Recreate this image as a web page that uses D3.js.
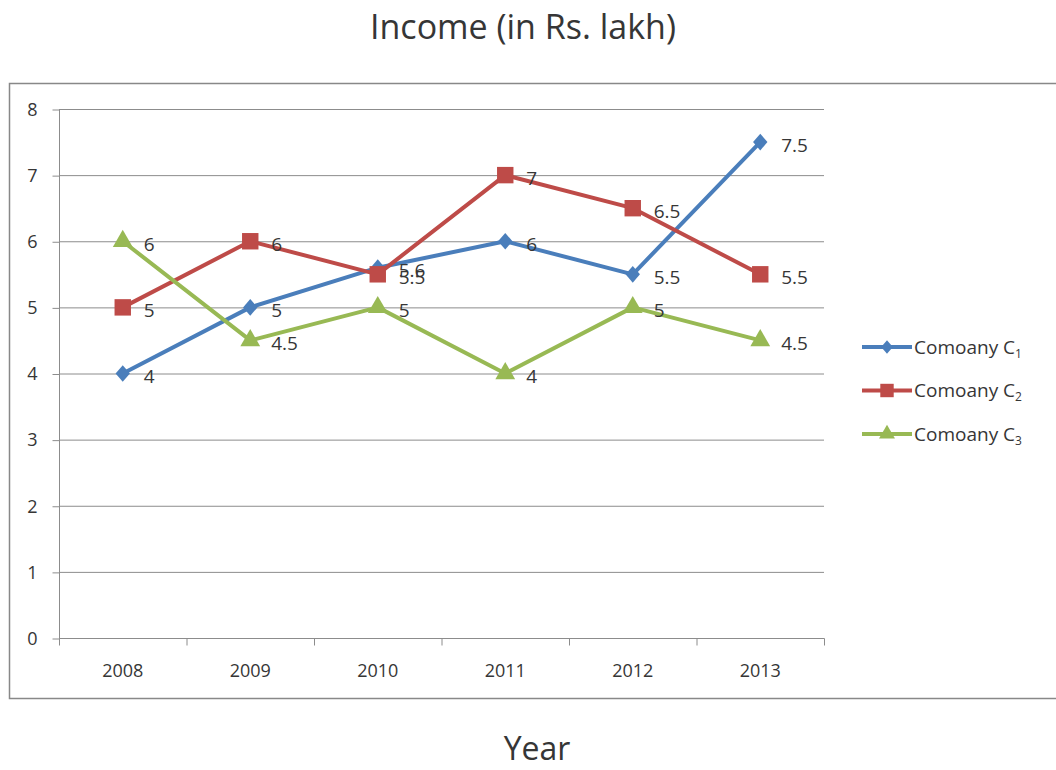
<!DOCTYPE html>
<html>
<head>
<meta charset="utf-8">
<script src="https://cdn.jsdelivr.net/npm/d3@7"></script>
<style>
  body { margin: 0; background: #fff; }
  text { font-family: "Open Sans", sans-serif; fill: #363636; }
</style>
</head>
<body>
<div class="chart-container"></div>
<script>
// --- Data ---
var years = ["2008", "2009", "2010", "2011", "2012", "2013"];
var company1 = [4, 5, 5.6, 6, 5.5, 7.5];
var company2 = [5, 6, 5.5, 7, 6.5, 5.5];
var company3 = [6, 4.5, 5, 4, 5, 4.5];
var seriesNames = ["1", "2", "3"];
var yTicks = [0, 1, 2, 3, 4, 5, 6, 7, 8];

// --- Layout ---
const w = 1056;
const h = 770;
const plotLeft = 59, plotRight = 824, plotTop = 109, plotBottom = 638;

// Excel-style diamond (a bit taller than wide)
var diamond = {
  draw: function (ctx, size) {
    var r = Math.sqrt(size / 2);
    ctx.moveTo(0, -r * 1.08);
    ctx.lineTo(r * 0.93, 0);
    ctx.lineTo(0, r * 1.08);
    ctx.lineTo(-r * 0.93, 0);
    ctx.closePath();
  }
};

var series = [
  { sub: seriesNames[0], values: company1, color: "#4a7ebb", shape: diamond, size: 120, legendSize: 80 },
  { sub: seriesNames[1], values: company2, color: "#be4b48", shape: d3.symbolSquare, size: 270, legendSize: 180 },
  { sub: seriesNames[2], values: company3, color: "#98b954", shape: d3.symbolTriangle, size: 170, legendSize: 110 }
];

var svg = d3.select(".chart-container")
  .append("svg")
  .attr("width", w)
  .attr("height", h);

// outer frame
svg.append("rect")
  .attr("x", 9.5).attr("y", 83.5)
  .attr("width", 1060).attr("height", 615)
  .attr("fill", "none")
  .attr("stroke", "#888")
  .attr("stroke-width", 1.5);

// title + axis title
svg.append("text")
  .attr("x", 523).attr("y", 39)
  .attr("text-anchor", "middle")
  .attr("font-size", "34px")
  .text("Income (in Rs. lakh)");

svg.append("text")
  .attr("x", 537).attr("y", 760)
  .attr("text-anchor", "middle")
  .attr("font-size", "32px")
  .text("Year");

// scales
var xScale = d3.scaleBand()
  .domain(years)
  .range([plotLeft, plotRight]);

var yScale = d3.scaleLinear()
  .domain([0, 8])
  .range([plotBottom, plotTop]);

// gridlines
svg.append("g")
  .selectAll("line")
  .data(yTicks.filter(function (d) { return d > 0; }))
  .enter()
  .append("line")
  .attr("x1", plotLeft).attr("x2", plotRight)
  .attr("y1", function (d) { return yScale(d) + 0.5; })
  .attr("y2", function (d) { return yScale(d) + 0.5; })
  .attr("stroke", "#8c8c8c")
  .attr("stroke-width", 1);

// y axis
var yAxis = svg.append("g")
  .attr("transform", "translate(" + (plotLeft + 0.5) + ",0.5)")
  .call(d3.axisLeft(yScale).tickValues(yTicks).tickSize(7).tickPadding(15));
yAxis.selectAll("text").attr("font-size", "18px").attr("fill", "#363636")
  .attr("font-family", "'Open Sans', sans-serif");
yAxis.selectAll("line, path").attr("stroke", "#8c8c8c");
yAxis.select("path").attr("d", "M0," + plotTop + "V" + plotBottom);

// x axis with ticks between categories
var xAxisG = svg.append("g")
  .attr("transform", "translate(0," + (plotBottom + 0.5) + ")");
xAxisG.append("line")
  .attr("x1", plotLeft).attr("x2", plotRight + 0.5)
  .attr("stroke", "#8c8c8c");
xAxisG.selectAll(".tk")
  .data(years.concat(["end"]))
  .enter()
  .append("line")
  .attr("x1", function (d, i) { return plotLeft + i * xScale.bandwidth() + 0.5; })
  .attr("x2", function (d, i) { return plotLeft + i * xScale.bandwidth() + 0.5; })
  .attr("y1", 0).attr("y2", 7)
  .attr("stroke", "#8c8c8c");
xAxisG.selectAll("text")
  .data(years)
  .enter()
  .append("text")
  .attr("x", function (d) { return xScale(d) + xScale.bandwidth() / 2; })
  .attr("y", 38)
  .attr("text-anchor", "middle")
  .attr("font-size", "18px")
  .text(function (d) { return d; });

// lines
var line = d3.line()
  .x(function (d, i) { return xScale(years[i]) + xScale.bandwidth() / 2; })
  .y(function (d) { return yScale(d); });

series.forEach(function (s) {
  svg.append("path")
    .datum(s.values)
    .attr("d", line)
    .attr("fill", "none")
    .attr("stroke", s.color)
    .attr("stroke-width", 4)
    .attr("stroke-linejoin", "round");
});

series.forEach(function (s) {
  svg.append("g")
    .selectAll("path")
    .data(s.values)
    .enter()
    .append("path")
    .attr("d", d3.symbol().type(s.shape).size(s.size))
    .attr("transform", function (d, i) {
      return "translate(" + (xScale(years[i]) + xScale.bandwidth() / 2) + "," + yScale(d) + ")";
    })
    .attr("fill", s.color);
});

// data labels
series.forEach(function (s) {
  svg.append("g")
    .selectAll("text")
    .data(s.values)
    .enter()
    .append("text")
    .attr("x", function (d, i) { return xScale(years[i]) + xScale.bandwidth() / 2 + 21; })
    .attr("y", function (d) { return yScale(d) + 3; })
    .attr("dy", "0.35em")
    .attr("font-size", "19px")
    .text(function (d) { return d; });
});

// legend
var legend = svg.append("g");
series.forEach(function (s, i) {
  var ly = 347 + i * 43.5;
  legend.append("line")
    .attr("x1", 862).attr("x2", 912)
    .attr("y1", ly).attr("y2", ly)
    .attr("stroke", s.color)
    .attr("stroke-width", 4);
  legend.append("path")
    .attr("d", d3.symbol().type(s.shape).size(s.legendSize))
    .attr("transform", "translate(887," + ly + ")")
    .attr("fill", s.color);
  var t = legend.append("text")
    .attr("x", 914).attr("y", ly)
    .attr("dy", "0.36em")
    .attr("font-size", "19px")
    .text("Comoany C");
  t.append("tspan")
    .attr("font-size", "12px")
    .attr("dy", "4")
    .text(s.sub);
});
</script>
</body>
</html>
